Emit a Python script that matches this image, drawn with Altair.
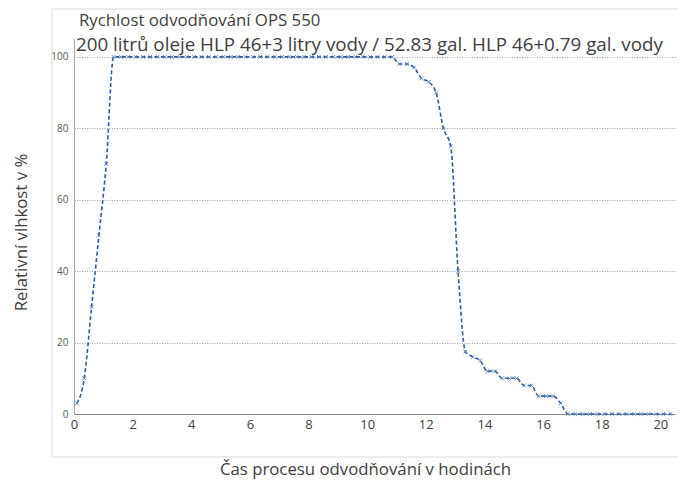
import altair as alt
import pandas as pd

# time in hours (measurement every 15 minutes)
hours = [
    0.1, 0.35, 0.6, 0.85, 1.1, 1.35, 1.6, 1.85, 2.1, 2.35, 2.6, 2.85,
    3.1, 3.35, 3.6, 3.85, 4.1, 4.35, 4.6, 4.85, 5.1, 5.35, 5.6, 5.85,
    6.1, 6.35, 6.6, 6.85, 7.1, 7.35, 7.6, 7.85, 8.1, 8.35, 8.6, 8.85,
    9.1, 9.35, 9.6, 9.85, 10.1, 10.35, 10.6, 10.85, 11.1, 11.35, 11.6, 11.85,
    12.1, 12.35, 12.6, 12.85, 13.1, 13.35, 13.6, 13.85, 14.1, 14.35, 14.6, 14.85,
    15.1, 15.35, 15.6, 15.85, 16.1, 16.35, 16.6, 16.85, 17.1, 17.35, 17.6, 17.85,
    18.1, 18.35, 18.6, 18.85, 19.1, 19.35, 19.6, 19.85, 20.1, 20.35,
]
# relative humidity in %
humidity = [
    3, 10, 30, 50, 70, 100, 100, 100, 100, 100, 100, 100,
    100, 100, 100, 100, 100, 100, 100, 100, 100, 100, 100, 100,
    100, 100, 100, 100, 100, 100, 100, 100, 100, 100, 100, 100,
    100, 100, 100, 100, 100, 100, 100, 100, 98, 98, 97, 94,
    93, 90, 80, 75, 40, 17.5, 16, 15, 12, 12, 10, 10,
    10, 8, 8, 5, 5, 5, 3, 0, 0, 0, 0, 0,
    0, 0, 0, 0, 0, 0, 0, 0, 0, 0,
]
x_ticks = list(range(0, 21))
y_ticks = [0, 20, 40, 60, 80, 100]

title_line1 = "Rychlost odvodňování OPS 550"
title_line2 = "200 litrů oleje HLP 46+3 litry vody / 52.83 gal. HLP 46+0.79 gal. vody"
x_title = "Čas procesu odvodňování v hodinách"
y_title = "Relativní vlhkost v %"

df = pd.DataFrame({"t": hours, "rh": humidity})

FONT = "Open Sans"
TXT = "#404040"
LINE = "#2f5b96"

x_enc = alt.X(
    "t:Q",
    scale=alt.Scale(domain=[0, 20.5], nice=False, zero=False),
    axis=alt.Axis(
        values=x_ticks, grid=False, ticks=False, labelFlush=False,
        labelOverlap=False,
        labelFontSize=13, labelColor=TXT, labelFont=FONT, labelPadding=4,
        domainColor="#868686", title=x_title, titleFont=FONT,
        titleFontSize=16.8, titleFontWeight="normal", titleColor=TXT,
        titleBaseline="middle", titleAlign="center", titleX=291, titleY=55,
    ),
)
y_enc = alt.Y(
    "rh:Q",
    scale=alt.Scale(domain=[0, 105], nice=False),
    axis=alt.Axis(
        values=y_ticks, grid=True, gridColor="#8c8c8c", gridDash=[1, 1.5],
        gridWidth=0.8,
        ticks=False, labelFontSize=10, labelColor="#595959", labelFont=FONT,
        labelPadding=6, domainColor="#a6a6a6", title=y_title,
        titleFont=FONT, titleFontSize=16.8, titleFontWeight="normal",
        titleColor=TXT, titleBaseline="middle", titleAlign="center",
        titleAngle=270, titleX=-53, titleY=193,
    ),
)

one = pd.DataFrame({"a": [0]})

frame = alt.Chart(one).mark_rect(
    fill=None, stroke="#d9d9d9", strokeWidth=1
).encode(
    x=alt.value(-22), x2=alt.value(640), y=alt.value(-30), y2=alt.value(418)
)

t1 = alt.Chart(one).mark_text(
    text=title_line1, font=FONT, fontSize=16.8, color=TXT,
    align="left", baseline="middle"
).encode(x=alt.value(5), y=alt.value(-18))

t2 = alt.Chart(one).mark_text(
    text=title_line2, font=FONT, fontSize=18.8, color=TXT,
    align="left", baseline="middle"
).encode(x=alt.value(2), y=alt.value(6))

line = alt.Chart(df).mark_line(
    color=LINE, strokeDash=[4, 2.5], strokeWidth=1.6, interpolate="monotone"
).encode(x=x_enc, y=y_enc)

pts = alt.Chart(df).mark_point(
    shape="M-1,-1L1,1M-1,1L1,-1", filled=False, color="#4f7fbf",
    strokeWidth=0.9, size=14, opacity=1
).encode(x="t:Q", y="rh:Q")

chart = alt.layer(frame, line, pts, t1, t2).properties(
    width=601, height=375,
    autosize=alt.AutoSizeParams(type="none"),
    padding={"left": 66, "top": 31, "right": 3, "bottom": 69},
).configure_view(stroke=None)

chart.save("out.html", embed_options={"renderer": "svg", "actions": False})
